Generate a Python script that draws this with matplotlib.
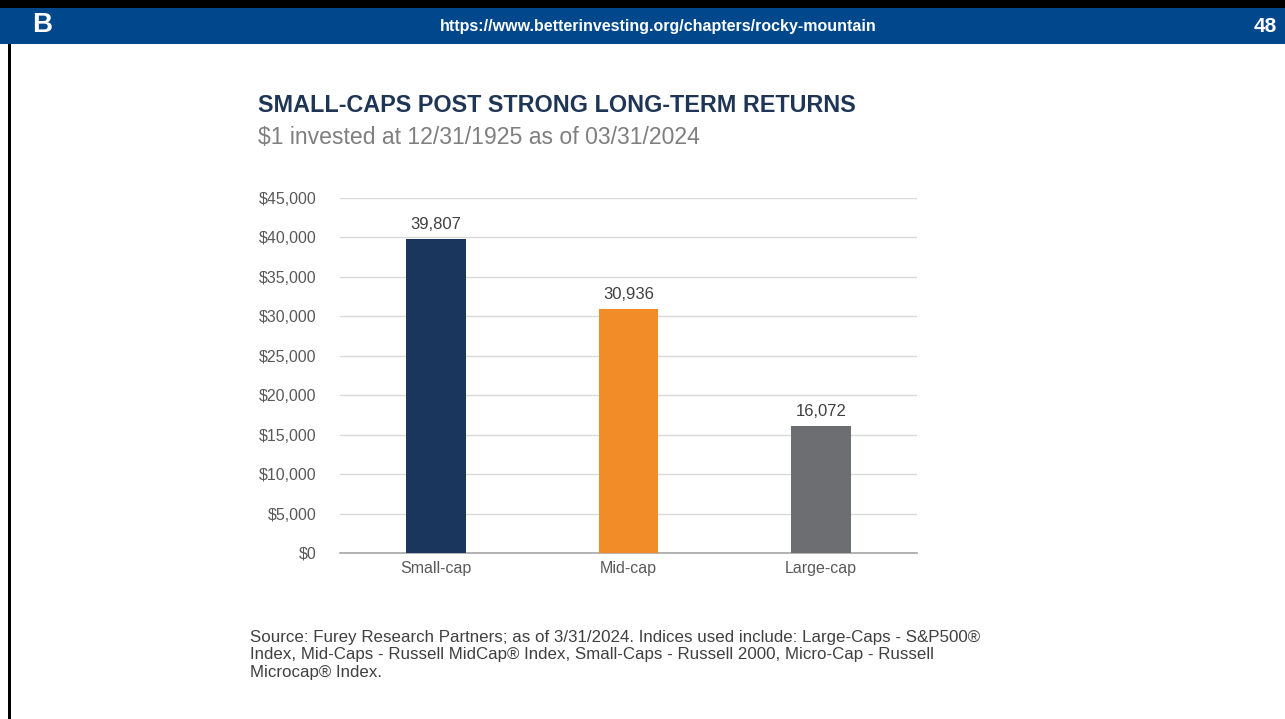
import matplotlib
matplotlib.use("Agg")
import matplotlib.pyplot as plt
from matplotlib.patches import Rectangle
from matplotlib.ticker import FuncFormatter

plt.rcParams['font.family'] = ['Liberation Sans', 'DejaVu Sans']

categories = ["Small-cap", "Mid-cap", "Large-cap"]
values = [39807, 30936, 16072]
colors = ["#1b365d", "#f28c28", "#6c6e71"]
yticks = [0, 5000, 10000, 15000, 20000, 25000, 30000, 35000, 40000, 45000]

title = "SMALL-CAPS POST STRONG LONG-TERM RETURNS"
subtitle = "$1 invested at 12/31/1925 as of 03/31/2024"
footnote = ("Source: Furey Research Partners; as of 3/31/2024. Indices used include: Large-Caps - S&P500\u00ae\n"
            "Index, Mid-Caps - Russell MidCap\u00ae Index, Small-Caps - Russell 2000, Micro-Cap - Russell\n"
            "Microcap\u00ae Index.")
url = "https://www.betterinvesting.org/chapters/rocky-mountain"
page = "48"

W, H = 1285, 719
fig = plt.figure(figsize=(W / 100, H / 100), dpi=100)
fig.patch.set_facecolor("white")

# slide frame: black top line, blue header band, left black border
fig.patches.append(Rectangle((0, 1 - 8 / H), 1, 8 / H, transform=fig.transFigure,
                             facecolor="black", edgecolor="none"))
fig.patches.append(Rectangle((0, 1 - 44 / H), 1, 36 / H, transform=fig.transFigure,
                             facecolor="#00478b", edgecolor="none"))
fig.patches.append(Rectangle((8 / W, 0), 3 / W, 1 - 44 / H, transform=fig.transFigure,
                             facecolor="black", edgecolor="none"))
fig.text(42 / W, 1 - 25 / H, "B", color="white", fontsize=20, fontweight="bold",
         ha="center", va="center")
fig.text(658 / W, 1 - 26 / H, url, color="white", fontsize=11.5, fontweight="bold",
         ha="center", va="center")
fig.text(1265 / W, 1 - 26 / H, page, color="white", fontsize=15, fontweight="bold",
         ha="center", va="center")

fig.text(258 / W, 1 - 105 / H, title, color="#1f3556", fontsize=16.8, fontweight="bold",
         ha="left", va="center")
fig.text(258 / W, 1 - 138 / H, subtitle, color="#7f7f7f", fontsize=16.6,
         ha="left", va="center")

ax = fig.add_axes([340 / W, 166 / H, 577 / W, 355 / H])
x = range(len(categories))
ax.bar(x, values, width=0.31, color=colors, zorder=3)
for xi, v in zip(x, values):
    ax.text(xi, v + 900, "{:,}".format(v), ha="center", va="bottom",
            fontsize=12, color="#404040")

ax.set_xlim(-0.5, 2.5)
ax.set_ylim(0, 45000)
ax.set_yticks(yticks)
ax.yaxis.set_major_formatter(FuncFormatter(lambda v, p: "${:,.0f}".format(v)))
ax.set_xticks(list(x))
ax.set_xticklabels(categories)
ax.tick_params(axis="both", length=0, labelsize=11.5, labelcolor="#595959")
ax.tick_params(axis="y", pad=17)
ax.tick_params(axis="x", pad=6)
ax.grid(axis="y", color="#d9d9d9", linewidth=1, zorder=0)
for s in ["top", "right", "left"]:
    ax.spines[s].set_visible(False)
ax.spines["bottom"].set_color("#a6a6a6")
ax.spines["bottom"].set_linewidth(1.2)

fig.text(250 / W, 1 - 630 / H, footnote, color="#404040", fontsize=12.2,
         ha="left", va="top", linespacing=1.2)

fig.savefig("out.png", dpi=100)
